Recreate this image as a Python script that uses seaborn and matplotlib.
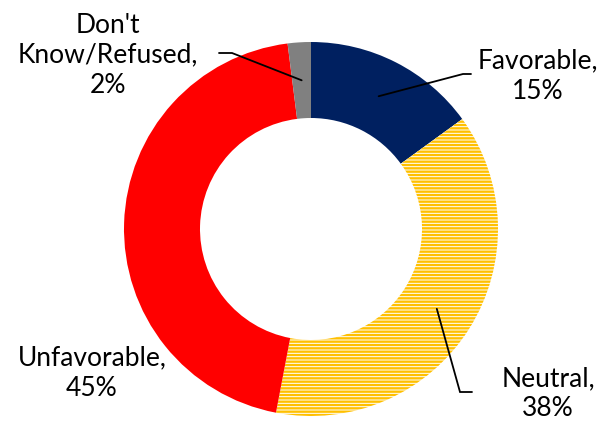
import numpy as np
import seaborn as sns
from matplotlib import pyplot as plt

labels = ["Favorable", "Neutral", "Unfavorable", "Don't\nKnow/Refused"]
shares = [15, 38, 45, 2]
colors = ["#002060", "#FFC000", "#FF0000", "#808080"]
hatches = [None, "-----", None, None]

sns.set_style("white")
plt.rcParams['font.family'] = ['Lato', 'DejaVu Sans']
plt.rcParams['hatch.linewidth'] = 1.7

W, H = 605, 425
fig = plt.figure(figsize=(W / 100, H / 100), dpi=100)
ax = fig.add_axes([0, 0, 1, 1])

center = (311, H - 229)
radius = 187
ring = 76

wedges, _ = ax.pie(
    shares, radius=radius, center=center, startangle=90, counterclock=False,
    colors=colors, wedgeprops=dict(width=ring, linewidth=0),
)
for w, c, h in zip(wedges, colors, hatches):
    if h:
        w.set_facecolor('white')
        w.set_edgecolor(c)
        w.set_hatch(h)
        w.set_linewidth(0)

# pie() resets the limits, so set the pixel frame afterwards
ax.set_xlim(0, W)
ax.set_ylim(0, H)
ax.set_aspect('equal')
ax.axis('off')

# label text positions (pixel layout), elbow and end of leader lines
label_layout = {
    0: dict(text=(538, 76), elbow=(463, 74), end=(471, 74)),
    1: dict(text=(548, 394), elbow=(460, 392), end=(472, 392)),
    2: dict(text=(92, 373), elbow=None, end=None),
    3: dict(text=(108, 55), elbow=(232, 53), end=(219, 53)),
}

mid_r = radius - ring / 2
for i, w in enumerate(wedges):
    lay = label_layout[i]
    tx, ty = lay['text']
    ax.text(tx, H - ty, f"{labels[i]},\n{shares[i]}%", ha='center', va='center',
            fontsize=19, linespacing=1.25, color='black')
    if lay['elbow'] is not None:
        ang = np.deg2rad((w.theta1 + w.theta2) / 2)
        ax_ = center[0] + mid_r * np.cos(ang)
        ay_ = center[1] + mid_r * np.sin(ang)
        ex, ey = lay['elbow']
        nx, ny = lay['end']
        ax.plot([ax_, ex, nx], [ay_, H - ey, H - ny], color='black', lw=1.3,
                solid_joinstyle='miter')

fig.savefig("out.png", dpi=100)
